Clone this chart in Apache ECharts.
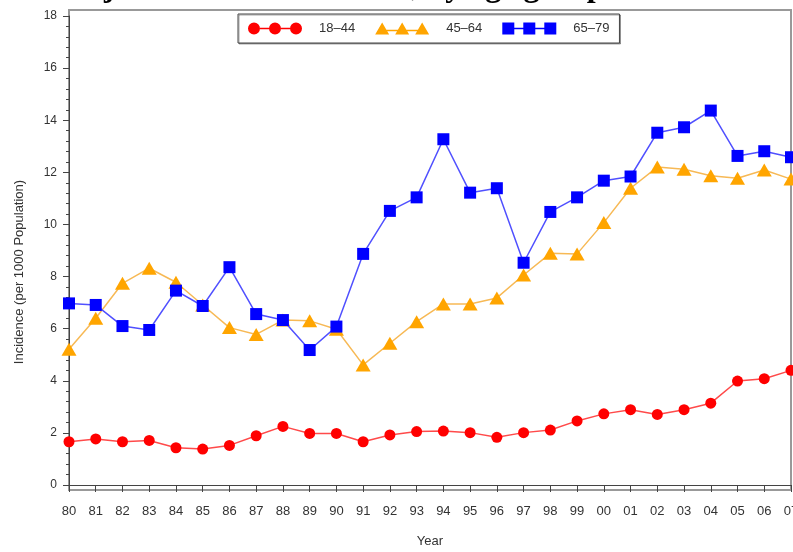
<!DOCTYPE html>
<html>
<head>
<meta charset="utf-8">
<script src="https://cdn.jsdelivr.net/npm/echarts@6/dist/echarts.min.js"></script>
<style>
  html, body { margin: 0; padding: 0; background: #fff; }
  #chart { width: 793px; height: 552px; }
</style>
</head>
<body>
<div id="chart"></div>
<script>
// Survey years (two-digit labels)
const years = ['80','81','82','83','84','85','86','87','88','89','90','91','92','93',
               '94','95','96','97','98','99','00','01','02','03','04','05','06','07'];

// Incidence per 1000 population, by age group
const age18to44 = [1.66, 1.77, 1.66, 1.71, 1.43, 1.38, 1.52, 1.89, 2.25, 1.98, 1.98, 1.66, 1.92, 2.05,
                   2.07, 2.01, 1.83, 2.01, 2.11, 2.46, 2.73, 2.89, 2.71, 2.89, 3.14, 3.99, 4.08, 4.40];
const age45to64 = [5.21, 6.40, 7.74, 8.32, 7.78, 6.91, 6.04, 5.78, 6.33, 6.30, 5.98, 4.61, 5.44, 6.27,
                   6.95, 6.95, 7.18, 8.06, 8.89, 8.87, 10.07, 11.39, 12.20, 12.12, 11.87, 11.77, 12.09, 11.74];
const age65to79 = [6.97, 6.91, 6.10, 5.95, 7.46, 6.87, 8.36, 6.56, 6.33, 5.18, 6.08, 8.87, 10.52, 11.04,
                   13.27, 11.22, 11.39, 8.53, 10.48, 11.04, 11.68, 11.84, 13.52, 13.73, 14.37, 12.63, 12.81, 12.58];

const groupNames = ['18–44', '45–64', '65–79'];

// Legend glyphs: three markers joined by a short line
const iconCircles = 'path://M0,6a6,6 0 1,1 12,0a6,6 0 1,1 -12,0Z M21,6a6,6 0 1,1 12,0a6,6 0 1,1 -12,0Z M42,6a6,6 0 1,1 12,0a6,6 0 1,1 -12,0Z M12,5.2H21V6.8H12Z M33,5.2H42V6.8H33Z';
const iconTriangles = 'path://M0,12L7,0L14,12Z M20,12L27,0L34,12Z M40,12L47,0L54,12Z M7,7.2H47V8.8H7Z';
const iconSquares = 'path://M0,0H12V12H0Z M21,0H33V12H21Z M42,0H54V12H42Z M6,5.2H48V6.8H6Z';

const sans = '"Liberation Sans", Arial, sans-serif';
const axisColor = '#444';
const textColor = '#333';

const chart = echarts.init(document.getElementById('chart'), null, { renderer: 'canvas' });

chart.setOption({
  animation: false,
  backgroundColor: '#fff',
  grid: { left: 69, right: 2, top: 16, bottom: 67, containLabel: false, outerBoundsMode: 'none' },
  graphic: [
    {
      type: 'rect',
      z: 0,
      shape: { x: 69, y: 10, width: 722, height: 480 },
      style: { fill: 'none', stroke: '#999', lineWidth: 2 }
    },
    {
      type: 'text',
      x: 63,
      y: -12,
      style: {
        text: 'Adjusted Incidence Rates, by age group',
        font: 'bold 32px "Liberation Serif", "Times New Roman", serif',
        fill: '#000',
        textAlign: 'left',
        textVerticalAlign: 'middle'
      }
    },
    {
      type: 'text',
      x: 19,
      y: 272,
      rotation: Math.PI / 2,
      style: {
        text: 'Incidence (per 1000 Population)',
        font: '13px ' + sans,
        fill: textColor,
        textAlign: 'center',
        textVerticalAlign: 'middle'
      }
    }
  ],
  legend: {
    left: 238,
    top: 14,
    orient: 'horizontal',
    padding: [8, 10, 8, 10],
    itemWidth: 54,
    itemHeight: 12,
    itemGap: 20,
    backgroundColor: '#fff',
    borderColor: '#444',
    borderWidth: 1,
    shadowColor: 'rgba(0,0,0,0.35)',
    shadowOffsetX: 1,
    shadowOffsetY: 1,
    shadowBlur: 0,
    textStyle: { color: textColor, fontSize: 13, fontFamily: sans, padding: [0, 4, 0, 12] },
    data: [
      { name: groupNames[0], icon: iconCircles },
      { name: groupNames[1], icon: iconTriangles },
      { name: groupNames[2], icon: iconSquares }
    ]
  },
  xAxis: {
    type: 'category',
    data: years,
    boundaryGap: false,
    offset: 5,
    name: 'Year',
    nameLocation: 'middle',
    nameGap: 45,
    nameTextStyle: { color: textColor, fontSize: 13, fontFamily: sans },
    axisLine: { show: true, lineStyle: { color: axisColor, width: 1 } },
    axisTick: { show: true, inside: false, length: 7, interval: 0, lineStyle: { color: axisColor } },
    axisLabel: { interval: 0, color: textColor, fontSize: 13, fontFamily: sans, margin: 15 },
    splitLine: { show: false }
  },
  yAxis: {
    type: 'value',
    min: 0,
    max: 18,
    interval: 2,
    axisLine: { show: true, lineStyle: { color: axisColor, width: 1 } },
    axisTick: { show: true, length: 6, lineStyle: { color: axisColor } },
    minorTick: { show: true, splitNumber: 5, length: 3, lineStyle: { color: axisColor } },
    axisLabel: { color: textColor, fontSize: 12, fontFamily: sans, margin: 12 },
    splitLine: { show: false },
    minorSplitLine: { show: false }
  },
  series: [
    {
      name: groupNames[0],
      type: 'line',
      data: age18to44,
      symbol: 'circle',
      symbolSize: 11,
      itemStyle: { color: '#ff0000' },
      lineStyle: { color: '#ff4a4a', width: 1.5 },
      z: 3
    },
    {
      name: groupNames[1],
      type: 'line',
      data: age45to64,
      symbol: 'triangle',
      symbolSize: [15, 13],
      itemStyle: { color: '#ffa500' },
      lineStyle: { color: '#f7b955', width: 1.5 },
      z: 3
    },
    {
      name: groupNames[2],
      type: 'line',
      data: age65to79,
      symbol: 'rect',
      symbolSize: 12,
      itemStyle: { color: '#0000ff' },
      lineStyle: { color: '#5050ff', width: 1.5 },
      z: 4
    }
  ]
});
</script>
</body>
</html>
